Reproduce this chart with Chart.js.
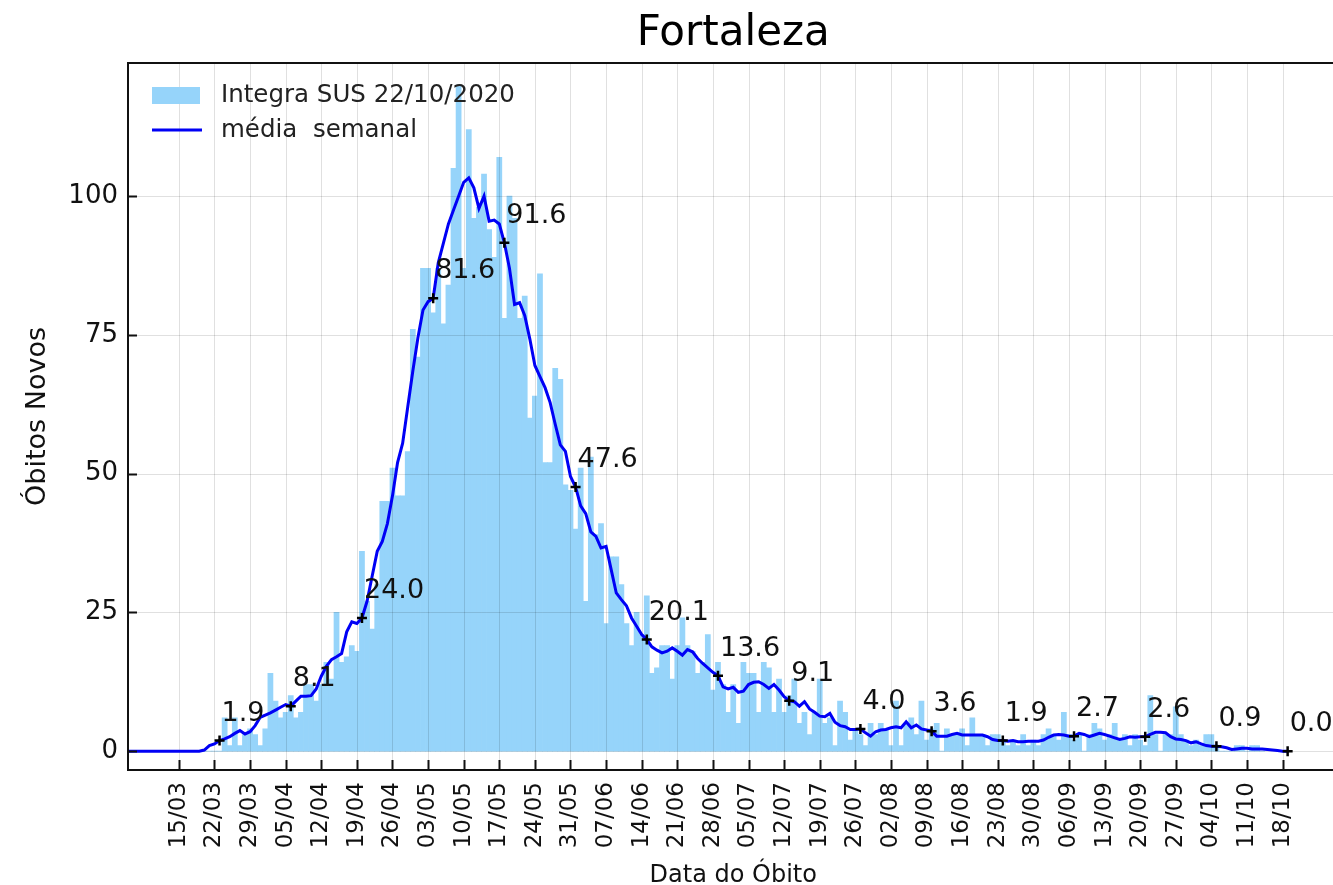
<!DOCTYPE html>
<html lang="pt-BR">
<head>
<meta charset="UTF-8" />
<title>Fortaleza</title>
<script src="https://cdn.jsdelivr.net/npm/chart.js@4.4.0/dist/chart.umd.min.js"></script>
<style>
  html, body { margin: 0; padding: 0; background: #fff; overflow: hidden; }
  #wrap { width: 1333px; height: 885px; overflow: hidden; }
</style>
</head>
<body>
<div id="wrap"><canvas id="myChart" width="1346" height="885"></canvas></div>
<script>
// day 0 = 15/03/2020
var tickLabels = ["15/03", "22/03", "29/03", "05/04", "12/04", "19/04", "26/04", "03/05",
  "10/05", "17/05", "24/05", "31/05", "07/06", "14/06", "21/06", "28/06", "05/07", "12/07",
  "19/07", "26/07", "02/08", "09/08", "16/08", "23/08", "30/08", "06/09", "13/09", "20/09",
  "27/09", "04/10", "11/10", "18/10"];
var yTicks = [0, 25, 50, 75, 100];

// daily deaths, starting at day 0
var barStartDay = 0;
var dailyDeaths = [
  0, 0, 0, 0, 0, 0, 0, 0, 0, 6,
  1, 6, 1, 3, 4, 3, 1, 4, 14, 9,
  6, 7, 10, 6, 7, 12, 12, 9, 12, 16,
  13, 25, 16, 17, 19, 18, 36, 27, 22, 30,
  45, 45, 51, 46, 46, 54, 76, 71, 87, 87,
  79, 87, 77, 84, 105, 120, 87, 112, 96, 98,
  104, 94, 89, 107, 78, 100, 96, 78, 82, 60,
  64, 86, 52, 52, 69, 67, 48, 47, 40, 51,
  27, 53, 39, 41, 23, 35, 35, 30, 23, 19,
  25, 21, 28, 14, 15, 19, 19, 13, 19, 24,
  19, 18, 14, 16, 21, 11, 16, 12, 7, 12,
  5, 16, 14, 14, 7, 16, 15, 7, 13, 7,
  10, 13, 5, 7, 3, 7, 13, 5, 6, 1,
  9, 7, 2, 4, 3, 1, 5, 3, 5, 4,
  1, 9, 1, 5, 6, 3, 9, 2, 4, 5,
  0, 4, 3, 3, 4, 1, 6, 3, 3, 1,
  3, 3, 2, 1, 2, 1, 3, 1, 2, 1,
  3, 4, 3, 2, 7, 3, 2, 3, 0, 3,
  5, 4, 2, 3, 5, 2, 3, 1, 3, 2,
  1, 10, 3, 0, 3, 3, 8, 3, 2, 1,
  2, 1, 3, 3, 1, 0, 0, 0, 1, 1,
  0, 1, 1, 0
];

// weekly mean, starting at day -10 (05/03)
var lineStartDay = -10;
var weeklyMean = [
  0, 0, 0, 0, 0, 0, 0, 0, 0, 0,
  0, 0, 0, 0, 0, 0.2, 1.0, 1.3, 1.9, 2.2,
  2.6, 3.2, 3.7, 3.1, 3.5, 4.6, 6.1, 6.5, 6.9, 7.4,
  7.9, 8.4, 8.1, 9.0, 9.9, 9.9, 10.0, 11.2, 13.5, 15.3,
  16.5, 17.0, 17.6, 21.5, 23.3, 23.0, 24.0, 27.0, 31.5, 36.0,
  37.8, 41.0, 46.0, 52.0, 55.5, 62.0, 68.5, 74.5, 79.5, 81.0,
  81.6, 88.0, 91.5, 95.0, 97.5, 100.0, 102.5, 103.3, 101.5, 97.8,
  100.0, 95.5, 95.7, 95.0, 91.6, 87.0, 80.5, 80.8, 78.5, 74.3,
  69.5, 67.5, 65.5, 62.8, 58.9, 55.2, 54.0, 49.5, 47.6, 44.2,
  42.8, 39.5, 38.7, 36.6, 36.9, 32.7, 28.5, 27.3, 26.2, 24.0,
  22.5, 21.0, 20.1, 18.8, 18.2, 17.7, 18.0, 18.6, 18.0, 17.3,
  18.3, 17.9, 16.7, 15.8, 15.0, 14.2, 13.6, 11.6, 11.2, 11.5,
  10.6, 10.8, 12.0, 12.4, 12.5, 12.0, 11.3, 12.0, 11.0, 9.8,
  9.1, 8.9, 8.1, 8.9, 7.6, 7.0, 6.3, 6.2, 6.8, 5.2,
  4.6, 4.4, 3.9, 3.9, 4.0, 3.3, 2.7, 3.5, 3.8, 3.9,
  4.2, 4.4, 4.2, 5.3, 4.2, 4.7, 4.0, 3.8, 3.6, 2.7,
  2.7, 2.7, 3.0, 3.2, 2.9, 2.9, 2.9, 2.9, 2.9, 2.6,
  2.1, 1.9, 1.9, 1.8, 1.9, 1.7, 1.7, 1.8, 1.8, 1.8,
  2.0, 2.5, 2.9, 3.0, 2.9, 2.7, 2.7, 3.2, 3.0, 2.6,
  2.9, 3.2, 3.0, 2.7, 2.4, 2.1, 2.3, 2.6, 2.5, 2.6,
  2.6, 3.0, 3.4, 3.4, 3.3, 2.6, 2.2, 2.1, 1.9, 1.5,
  1.7, 1.3, 1.0, 0.9, 0.9, 0.8, 0.6, 0.3, 0.4, 0.5,
  0.5, 0.4, 0.4, 0.4, 0.3, 0.2, 0.1, 0.0, 0.0
];

// labelled points on the weekly mean (every two weeks)
var markerDays = [8, 22, 36, 50, 64, 78, 92, 106, 120, 134, 148, 162, 176, 190, 204, 218];
var markerValues = [1.9, 8.1, 24.0, 81.6, 91.6, 47.6, 20.1, 13.6, 9.1, 4.0, 3.6, 1.9, 2.7, 2.6, 0.9, 0.0];

var FONT = '"DejaVu Sans", sans-serif';
var barColor = "rgb(150, 212, 250)";
var lineColor = "#0000f5";
var gridColor = "rgba(0, 0, 0, 0.12)";

var barPoints = dailyDeaths.map(function (v, i) { return { x: barStartDay + i, y: v }; });
var linePoints = weeklyMean.map(function (v, i) { return { x: lineStartDay + i, y: v }; });
var markerPoints = markerDays.map(function (d, i) { return { x: d, y: markerValues[i] }; });

// grid drawn over the bars (but under the line), like the original
var gridOverBars = {
  id: "gridOverBars",
  beforeDatasetDraw: function (chart, args) {
    if (args.index !== 1) return;
    var ctx = chart.ctx;
    var a = chart.chartArea;
    var xs = chart.scales.x;
    var ys = chart.scales.y;
    ctx.save();
    ctx.strokeStyle = gridColor;
    ctx.lineWidth = 1;
    ctx.beginPath();
    tickLabels.forEach(function (l, i) {
      var x = Math.round(xs.getPixelForValue(i * 7)) + 0.5;
      ctx.moveTo(x, a.top);
      ctx.lineTo(x, a.bottom);
    });
    yTicks.forEach(function (v) {
      var y = Math.round(ys.getPixelForValue(v)) + 0.5;
      ctx.moveTo(a.left, y);
      ctx.lineTo(a.right, y);
    });
    ctx.stroke();
    ctx.restore();
  }
};

// frame, inward ticks, title, legend and marker labels
var decorations = {
  id: "decorations",
  afterDatasetsDraw: function (chart) {
    var ctx = chart.ctx;
    var a = chart.chartArea;
    var xs = chart.scales.x;
    var ys = chart.scales.y;
    ctx.save();

    // marker labels
    var pts = chart.getDatasetMeta(0).data;
    ctx.fillStyle = "#111";
    ctx.font = "27px " + FONT;
    ctx.textAlign = "left";
    ctx.textBaseline = "middle";
    pts.forEach(function (p, i) {
      ctx.fillText(markerValues[i].toFixed(1), p.x + 2, p.y - 27);
    });

    // frame
    ctx.strokeStyle = "#111";
    ctx.lineWidth = 2;
    ctx.strokeRect(a.left, a.top, a.right - a.left, a.bottom - a.top);

    // inward ticks
    ctx.beginPath();
    yTicks.forEach(function (v) {
      var y = Math.round(ys.getPixelForValue(v)) + 0.5;
      ctx.moveTo(a.left, y);
      ctx.lineTo(a.left + 9, y);
    });
    tickLabels.forEach(function (l, i) {
      var x = Math.round(xs.getPixelForValue(i * 7)) + 0.5;
      ctx.moveTo(x, a.bottom);
      ctx.lineTo(x, a.bottom - 10);
    });
    ctx.stroke();

    // title
    ctx.fillStyle = "#000";
    ctx.font = "42px " + FONT;
    ctx.textAlign = "center";
    ctx.fillText("Fortaleza", (a.left + a.right) / 2, 34);

    // legend
    ctx.fillStyle = barColor;
    ctx.fillRect(a.left + 24, a.top + 24, 48, 17);
    ctx.strokeStyle = lineColor;
    ctx.lineWidth = 3;
    ctx.beginPath();
    ctx.moveTo(a.left + 24, a.top + 67);
    ctx.lineTo(a.left + 74, a.top + 67);
    ctx.stroke();
    ctx.fillStyle = "#222";
    ctx.font = "24.5px " + FONT;
    ctx.textAlign = "left";
    ctx.fillText("Integra SUS 22/10/2020", a.left + 93, a.top + 33);
    ctx.fillText("média  semanal", a.left + 93, a.top + 68);
    ctx.restore();
  }
};

var ctx = document.getElementById("myChart").getContext("2d");
var myChart = new Chart(ctx, {
  type: "bar",
  data: {
    datasets: [
      {
        type: "scatter",
        label: "marcas",
        data: markerPoints,
        pointStyle: "cross",
        pointRadius: 5,
        borderColor: "#000",
        backgroundColor: "#000",
        borderWidth: 2.5,
        order: 0
      },
      {
        type: "line",
        label: "média  semanal",
        data: linePoints,
        borderColor: lineColor,
        borderWidth: 3,
        pointRadius: 0,
        tension: 0,
        fill: false,
        order: 1
      },
      {
        type: "bar",
        label: "Integra SUS 22/10/2020",
        data: barPoints,
        backgroundColor: barColor,
        borderWidth: 0,
        barPercentage: 1,
        categoryPercentage: 1,
        order: 2
      }
    ]
  },
  options: {
    responsive: false,
    animation: false,
    devicePixelRatio: 1,
    layout: { padding: { top: 63, left: 0, right: 0, bottom: 0 } },
    plugins: {
      legend: { display: false },
      tooltip: { enabled: false },
      title: { display: false }
    },
    scales: {
      x: {
        type: "linear",
        min: -10,
        max: 228,
        offset: false,
        afterBuildTicks: function (s) {
          s.ticks = tickLabels.map(function (l, i) { return { value: i * 7 }; });
        },
        afterFit: function (s) { s.height = 115; },
        ticks: {
          autoSkip: false,
          minRotation: 90,
          maxRotation: 90,
          padding: 4,
          color: "#111",
          font: { family: FONT, size: 23 },
          callback: function (v, i) { return tickLabels[i]; }
        },
        grid: { display: false, drawTicks: true, tickLength: 8 },
        border: { display: false },
        title: {
          display: true,
          text: "Data do Óbito",
          color: "#111",
          font: { family: FONT, size: 24, lineHeight: 0.8 },
          padding: { top: 0, bottom: 0 }
        }
      },
      y: {
        min: -3.4,
        max: 124,
        afterBuildTicks: function (s) {
          s.ticks = yTicks.map(function (v) { return { value: v }; });
        },
        afterFit: function (s) { s.width = 128; },
        ticks: {
          padding: 2,
          color: "#111",
          font: { family: FONT, size: 26 }
        },
        grid: { display: false, drawTicks: true, tickLength: 8 },
        border: { display: false },
        title: {
          display: true,
          text: "Óbitos Novos",
          color: "#111",
          font: { family: FONT, size: 27 },
          padding: { top: 22, bottom: 0 }
        }
      }
    }
  },
  plugins: [gridOverBars, decorations]
});
</script>
</body>
</html>
